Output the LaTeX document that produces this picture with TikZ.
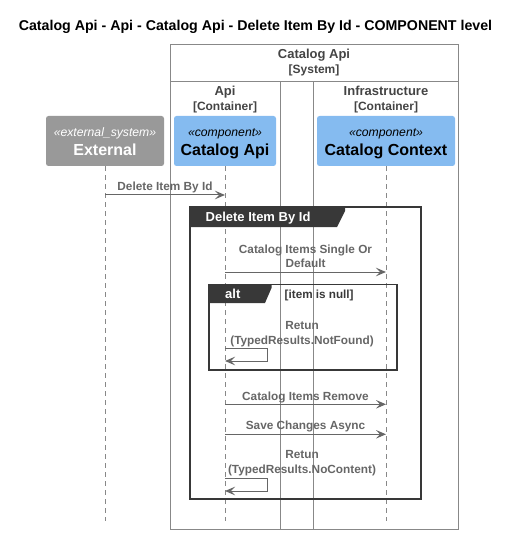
\documentclass[tikz,border=0pt]{standalone}
\usepackage{fontspec}
\setmainfont{Liberation Sans}
\usetikzlibrary{arrows.meta}
\definecolor{txtgray}{HTML}{666666}
\definecolor{bndtxt}{HTML}{444444}
\definecolor{boxgray}{HTML}{888888}
\definecolor{extgray}{HTML}{999999}
\definecolor{compblue}{HTML}{85BBF0}
\definecolor{framedark}{HTML}{383838}
\newcommand{\fs}[1]{\fontsize{#1}{#1}\selectfont}
\tikzset{
  tx/.style={inner sep=0pt, text depth=0pt, text height=#1},
  bnd/.style={draw=boxgray, line width=0.8pt},
  comp/.style={rounded corners=2.5pt, minimum height=50pt, inner sep=0pt, align=center},
  life/.style={draw=boxgray, dash pattern=on 5pt off 4pt, line width=0.6pt},
  msg/.style={draw=txtgray, line width=1pt, -{Stealth[length=10pt,width=8.5pt,inset=4pt]}},
  mlabel/.style={text=txtgray, font=\bfseries\fs{11.8}, align=center, tx=8.5pt},
  frm/.style={draw=framedark, line width=1.5pt},
  tabtxt/.style={text=white, font=\bfseries\fs{13}, tx=9.3pt, anchor=west},
  bname/.style={text=bndtxt, font=\bfseries\fs{13}, tx=9.3pt},
  btype/.style={text=bndtxt, font=\bfseries\fs{12}, tx=8.6pt},
  stereo/.style={font=\itshape\fs{12.2}, tx=8.8pt},
  pname/.style={font=\bfseries\fs{16}, tx=11.5pt},
}
\begin{document}
\begin{tikzpicture}[x=1pt,y=-1pt]
\useasboundingbox (0,0) rectangle (512,534);
% title
\node[font=\bfseries\fs{14.2}, tx=10.2pt] (title) at (255.5,25) {Catalog Api - Api - Catalog Api - Delete Item By Id - COMPONENT level};
% system boundary
\draw[bnd] (170,44) rectangle (458,529);
\draw[bnd] (170,81) -- (458,81);
\node[bname] (sysname) at (314,53.5) {Catalog Api};
\node[btype] (systype) at (314,69) {[System]};
% containers
\draw[bnd] (170,81) rectangle (280,529);
\draw[bnd] (313,81) rectangle (458,529);
\node[bname] (apiname) at (225,90.5) {Api};
\node[btype] (apitype) at (225,106) {[Container]};
\node[bname] (infname) at (386,90.5) {Infrastructure};
\node[btype] (inftype) at (386,106) {[Container]};
% participants
\node[comp, fill=extgray, minimum width=118pt] (ext) at (105,141) {};
\node[stereo, text=white] (extst) at (105,132) {«external\_system»};
\node[pname, text=white] (extnm) at (105,149.5) {External};
\node[comp, fill=compblue, minimum width=102pt] (api) at (225,141) {};
\node[stereo] (apist) at (225,132) {«component»};
\node[pname] (apinm) at (225,149.5) {Catalog Api};
\node[comp, fill=compblue, minimum width=138pt] (ctx) at (386,141) {};
\node[stereo] (ctxst) at (386,132) {«component»};
\node[pname] (ctxnm) at (386,149.5) {Catalog Context};
% lifelines
\coordinate (extend) at (105,521);
\coordinate (apiend) at (225,521);
\coordinate (ctxend) at (386,521);
\draw[life] (ext.south) -- (extend);
\draw[life] (api.south) -- (apiend);
\draw[life] (ctx.south) -- (ctxend);
% first message
\coordinate (m1a) at (105,195);
\coordinate (m1b) at (225,195);
\draw[msg] (m1a) -- (m1b);
\node[mlabel] (l1) at (165,186.5) {Delete Item By Id};
% group frame
\draw[frm] (190,207) rectangle (421,499);
\fill[framedark] (190,207) -- (345,207) -- (345,211) -- (337,227) -- (190,227) -- cycle;
\node[tabtxt] (g1) at (205.5,217.3) {Delete Item By Id};
% message 2
\coordinate (m2a) at (225,272);
\coordinate (m2b) at (386,272);
\draw[msg] (m2a) -- (m2b);
\node[mlabel] (l2) at (305.5,249) {Catalog Items Single Or};
\node[mlabel] (l2b) at (305.5,263.5) {Default};
% alt frame
\draw[frm] (209,284.5) rectangle (397,370);
\fill[framedark] (209,284.5) -- (271.5,284.5) -- (271.5,288) -- (265,303) -- (209,303) -- cycle;
\node[tabtxt] (alt) at (225,294.3) {alt};
\node[text=framedark, font=\bfseries\fs{11.7}, tx=8.4pt, anchor=west] (cond) at (284.5,294) {[item is null]};
% self message 1
\node[mlabel] (l3) at (302,325) {Retun};
\node[mlabel] (l3b) at (302,340) {(TypedResults.NotFound)};
\coordinate (s1a) at (225,348.3);
\coordinate (s1b) at (225,361);
\draw[msg] (s1a) -- (267,348.3) -- (267,361) -- (s1b);
% message 4
\coordinate (m4a) at (225,404.3);
\coordinate (m4b) at (386,404.3);
\draw[msg] (m4a) -- (m4b);
\node[mlabel] (l4) at (305.5,396) {Catalog Items Remove};
% message 5
\coordinate (m5a) at (225,434.3);
\coordinate (m5b) at (386,434.3);
\draw[msg] (m5a) -- (m5b);
\node[mlabel] (l5) at (305.5,425) {Save Changes Async};
% self message 2
\node[mlabel] (l6) at (302,454.3) {Retun};
\node[mlabel] (l6b) at (302,469.3) {(TypedResults.NoContent)};
\coordinate (s2a) at (225,478.3);
\coordinate (s2b) at (225,491);
\draw[msg] (s2a) -- (267,478.3) -- (267,491) -- (s2b);
\end{tikzpicture}
\end{document}
